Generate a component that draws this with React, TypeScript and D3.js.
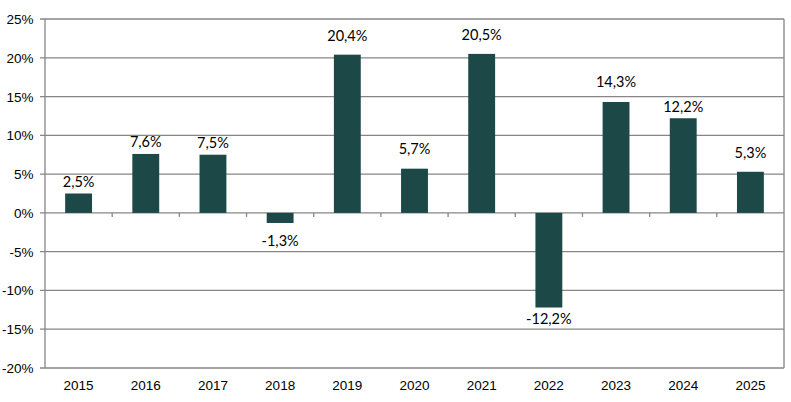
import React from "react";
import * as d3 from "d3";

const years = ["2015","2016","2017","2018","2019","2020","2021","2022","2023","2024","2025"];
const returns = [2.5, 7.6, 7.5, -1.3, 20.4, 5.7, 20.5, -12.2, 14.3, 12.2, 5.3];
const yTicks = [-20, -15, -10, -5, 0, 5, 10, 15, 20, 25];
// distance (px) between bar end and label baseline, as placed in the reference
const labelGap = [6.5, 6.5, 6.5, 23.5, 14, 15, 14, 16.5, 14.5, 6, 14];

const W = 791, H = 402;
const m = { left: 45, right: 7, top: 19, bottom: 34 };

export default function App() {
  const x = d3.scaleBand<string>().domain(years).range([m.left, W - m.right]).paddingInner(0.6).paddingOuter(0.3);
  const band = d3.scaleBand<string>().domain(years).range([m.left, W - m.right]);
  const y = d3.scaleLinear().domain([-20, 25]).range([H - m.bottom, m.top]);
  const grid = "#868686";
  const fmt = (v: number) => v.toFixed(1).replace(".", ",") + "%";
  const axisFont = "'Liberation Sans', Arial, sans-serif";
  return (
    <svg width={W} height={H} style={{ position: "absolute", left: 0, top: 0, background: "#fff" }}>
      {yTicks.map(t => (
        <g key={t}>
          <line x1={m.left - 5} x2={W - m.right} y1={y(t)} y2={y(t)} stroke={grid} strokeWidth={1.3} />
          <text x={m.left - 11.5} y={y(t) + 5} textAnchor="end" fontFamily={axisFont} fontSize={13.5} fill="#000">{t}%</text>
        </g>
      ))}
      <line x1={m.left} x2={m.left} y1={m.top} y2={H - m.bottom} stroke={grid} strokeWidth={1.3} />
      <line x1={W - m.right} x2={W - m.right} y1={m.top} y2={H - m.bottom} stroke={grid} strokeWidth={1.3} />
      {years.slice(1).map(yr => (
        <line key={yr} x1={band(yr)!} x2={band(yr)!} y1={y(0)} y2={y(0) + 4} stroke={grid} strokeWidth={1.3} />
      ))}
      {years.map((yr, i) => {
        const v = returns[i];
        const top = Math.min(y(v), y(0));
        const h = Math.abs(y(v) - y(0));
        const cx = x(yr)! + x.bandwidth() / 2;
        return (
          <g key={yr}>
            <rect x={x(yr)!} y={top} width={x.bandwidth()} height={h} fill="#1c4848" />
            <text x={cx} y={v >= 0 ? y(v) - labelGap[i] : y(v) + labelGap[i]} textAnchor="middle" fontFamily="Lato, 'Open Sans', sans-serif" fontSize={14.5} fill="#000">{fmt(v)}</text>
            <text x={cx} y={H - m.bottom + 21.5} textAnchor="middle" fontFamily={axisFont} fontSize={13.5} fill="#000">{yr}</text>
          </g>
        );
      })}
    </svg>
  );
}
